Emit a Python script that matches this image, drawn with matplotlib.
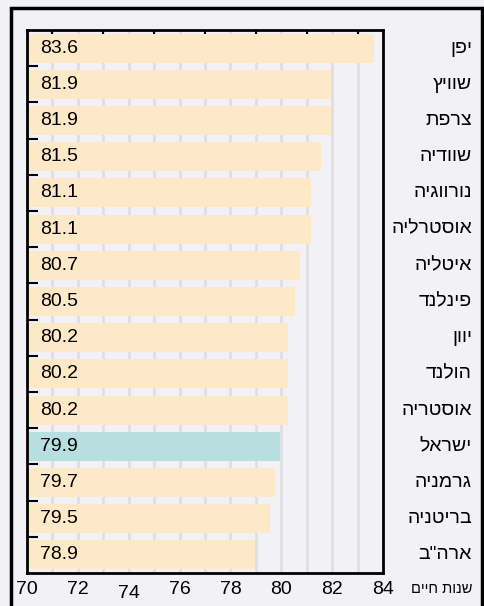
import matplotlib
matplotlib.use("Agg")
import matplotlib.pyplot as plt
import matplotlib.transforms as mtransforms
from matplotlib.patches import Rectangle

# data
countries = ['יפן', 'שוויץ', 'צרפת', 'שוודיה', 'נורווגיה', 'אוסטרליה', 'איטליה', 'פינלנד',
             'יוון', 'הולנד', 'אוסטריה', 'ישראל', 'גרמניה', 'בריטניה', 'ארה"ב']
values = [83.6, 81.9, 81.9, 81.5, 81.1, 81.1, 80.7, 80.5, 80.2, 80.2, 80.2, 79.9, 79.7, 79.5, 78.9]
xticks = [70, 72, 74, 76, 78, 80, 82, 84]
highlight = 'ישראל'
xlabel = 'שנות חיים'

bg = '#f2f1f6'
bar_c = '#fde8c8'
hl_c = '#b8dfe0'
plt.rcParams['font.family'] = ['Liberation Sans', 'DejaVu Sans']

def rtl(s):
    # matplotlib has no bidi, so flip the hebrew text
    return s[::-1]

fig = plt.figure(figsize=(4.84, 6.06), dpi=100, facecolor=bg)
ax = fig.add_axes([27/484, 1-573/606, 356/484, 543/606])
ax.set_facecolor(bg)

y = list(range(len(countries)))
colors = [hl_c if c == highlight else bar_c for c in countries]
ax.barh(y, [v-70 for v in values], left=70.05, height=0.8, color=colors, zorder=2)

for i, v in enumerate(values):
    ax.text(70.5, i, '%.1f' % v, va='center', ha='left', fontsize=14, zorder=3)

ax.set_xlim(70, 84)
ax.set_ylim(len(countries)-0.5, -0.5)

# vertical grid every year
for g in range(71, 84):
    ax.axvline(g, color='#dfdee3', lw=2, zorder=1)

ax.set_xticks(xticks)
ax.set_xticklabels([str(t) for t in xticks], fontsize=14)
ax.tick_params(axis='x', bottom=False, length=0, pad=6)
ax.set_xticks(range(70, 85), minor=True)
ax.tick_params(axis='x', which='minor', top=True, bottom=False, direction='in', length=4, width=1.5)
ax.set_yticks([i+0.5 for i in range(len(countries)-1)])
ax.set_yticklabels([])
ax.tick_params(axis='y', direction='in', length=8, width=1.5)
for s in ax.spines.values():
    s.set_linewidth(2)
ax.xaxis.get_major_ticks()[2].set_pad(9)

trans = mtransforms.blended_transform_factory(fig.transFigure, ax.transData)
for i, c in enumerate(countries):
    ax.text(472/484, i, rtl(c), transform=trans, ha='right', va='center', fontsize=14,
            clip_on=False)
fig.text(472/484, 1-589/606, rtl(xlabel), ha='right', va='center', fontsize=10.5)

fig.patches.append(Rectangle((10.5/484, -0.05), 471/484, 1.05-8/606, transform=fig.transFigure,
                             fill=False, lw=2.5, edgecolor='black'))

fig.savefig('out.png', dpi=100, facecolor=bg)
